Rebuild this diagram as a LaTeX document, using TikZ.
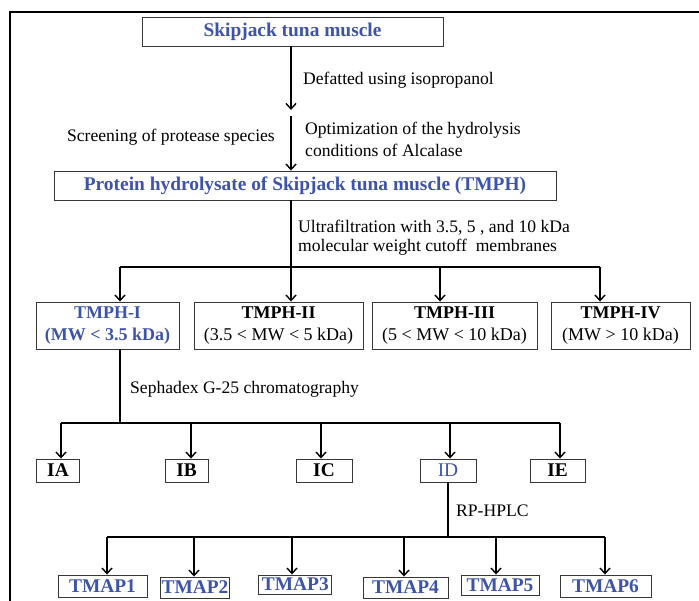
\documentclass[tikz,border=0pt]{standalone}
\usepackage{fontspec}
\setmainfont{Liberation Serif}
\usetikzlibrary{arrows.meta}
\definecolor{title}{RGB}{62, 84, 170}
\definecolor{edge}{RGB}{55, 55, 55}
\newcommand{\lab}{\fontsize{17.6}{21}\selectfont}
\newcommand{\hd}{\fontsize{19.4}{22}\selectfont\bfseries}
\newcommand{\sm}{\fontsize{18}{22}\selectfont}

\begin{document}
\begin{tikzpicture}[x=1pt, y=-1pt,
  box/.style={draw=edge, line width=0.9pt, inner sep=0pt, align=center},
  frac/.style={box, minimum height=47pt, font=\sm},
  link/.style={line width=1.6pt},
  arr/.style={link, -{Straight Barb[length=5.5pt, width=10pt, line width=1.4pt]}},
  note/.style={inner sep=0pt, align=left, font=\lab}]

  \useasboundingbox (0, 0) rectangle (699, 601);

  % outer frame, only top and left edge
  \draw[line width=1.4pt] (10, 601) -- (10, 12) -- (699, 12);

  % top part
  \node[box, minimum width=301pt, minimum height=29pt, font=\hd, text=title]
    (muscle) at (292.5, 31.5) {Skipjack tuna muscle};
  \node[box, minimum width=502pt, minimum height=29pt, font=\hd, text=title]
    (tmph) at (305, 185.5) {Protein hydrolysate of Skipjack tuna muscle (TMPH)};

  \coordinate (m1) at (291, 110);
  \coordinate (m2) at (291, 116);
  \draw[arr] (muscle.south -| m1) -- (m1);
  \draw[arr] (m2) -- (m2 |- tmph.north);

  \node[note, anchor=west] (defat) at (303, 80) {Defatted using isopropanol};
  \node[note, anchor=east] (screen) at (275, 137) {Screening of protease species};
  \node[note, anchor=west, font=\fontsize{17.6}{22}\selectfont] (optim) at (305, 139)
    {Optimization of the hydrolysis\\conditions of Alcalase};

  % ultrafiltration
  \node[frac, minimum width=143pt, text=title, font=\sm\bfseries]
    (tmphI) at (107.5, 325.5) {TMPH-I\\(MW \textless{} 3.5 kDa)};
  \node[frac, minimum width=169pt]
    (tmphII) at (278.5, 325.5) {\textbf{TMPH-II}\\(3.5 \textless{} MW \textless{} 5 kDa)};
  \node[frac, minimum width=165pt]
    (tmphIII) at (454.5, 325.5) {\textbf{TMPH-III}\\(5 \textless{} MW \textless{} 10 kDa)};
  \node[frac, minimum width=139pt]
    (tmphIV) at (620.5, 325.5) {\textbf{TMPH-IV}\\(MW \textgreater{} 10 kDa)};

  \coordinate (u1) at (120, 267);
  \coordinate (u2) at (291, 267);
  \coordinate (u3) at (440, 267);
  \coordinate (u4) at (600, 267);
  \draw[link] (u2 |- tmph.south) -- (u2);
  \draw[link] (u1) -- (u4);
  \foreach \c/\n in {u1/tmphI, u2/tmphII, u3/tmphIII, u4/tmphIV}
    \draw[arr] (\c) -- (\c |- \n.north);

  \node[note, anchor=west, font=\fontsize{17.6}{19}\selectfont] (ultra) at (298, 237.5)
    {Ultrafiltration with 3.5, 5 , and 10 kDa\\molecular weight cutoff~ membranes};

  % gel filtration
  \node[box, minimum width=43pt, minimum height=23pt, font=\hd] (IA) at (58, 470.5) {IA};
  \node[box, minimum width=43pt, minimum height=23pt, font=\hd] (IB) at (186.5, 470.5) {IB};
  \node[box, minimum width=56pt, minimum height=23pt, font=\hd] (IC) at (324, 470.5) {IC};
  \node[box, minimum width=56pt, minimum height=23pt, font=\fontsize{19.4}{22}\selectfont, text=title]
    (ID) at (448, 470.5) {ID};
  \node[box, minimum width=55pt, minimum height=23pt, font=\hd] (IE) at (557.5, 470.5) {IE};

  \coordinate (v1) at (61, 423);
  \coordinate (v2) at (191, 423);
  \coordinate (v3) at (321, 423);
  \coordinate (v4) at (450, 423);
  \coordinate (v5) at (560, 423);
  \draw[link] (v1 -| u1) -- (u1 |- tmphI.south);
  \draw[link] (v1) -- (v5);
  \foreach \c/\n in {v1/IA, v2/IB, v3/IC, v4/ID, v5/IE}
    \draw[arr] (\c) -- (\c |- \n.north);

  \node[note, anchor=west] (sepha) at (130, 389) {Sephadex G-25 chromatography};

  % RP-HPLC fractions
  \node[box, minimum width=89pt, minimum height=22pt, font=\hd, text=title] (TMAP1) at (102.5, 586) {TMAP1};
  \node[box, minimum width=69pt, minimum height=21pt, font=\hd, text=title] (TMAP2) at (195, 587.5) {TMAP2};
  \node[box, minimum width=73pt, minimum height=19pt, font=\hd, text=title] (TMAP3) at (295.3, 584.5) {TMAP3};
  \node[box, minimum width=85pt, minimum height=21pt, font=\hd, text=title] (TMAP4) at (405.5, 587.5) {TMAP4};
  \node[box, minimum width=78pt, minimum height=20pt, font=\hd, text=title] (TMAP5) at (500, 585) {TMAP5};
  \node[box, minimum width=91pt, minimum height=22pt, font=\hd, text=title] (TMAP6) at (605.5, 586) {TMAP6};

  \coordinate (w1) at (107, 537);
  \coordinate (w2) at (194, 537);
  \coordinate (w3) at (292, 537);
  \coordinate (w4) at (404, 537);
  \coordinate (w5) at (496, 537);
  \coordinate (w6) at (605, 537);
  \draw[link] (ID.south) -- (ID.south |- w1);
  \draw[link] (w1) -- (w6);
  \foreach \c/\n in {w1/TMAP1, w2/TMAP2, w3/TMAP3, w4/TMAP4, w5/TMAP5, w6/TMAP6}
    \draw[arr] (\c) -- (\c |- \n.north);

  \node[note, anchor=west] (rphplc) at (456, 511) {RP-HPLC};

\end{tikzpicture}
\end{document}
